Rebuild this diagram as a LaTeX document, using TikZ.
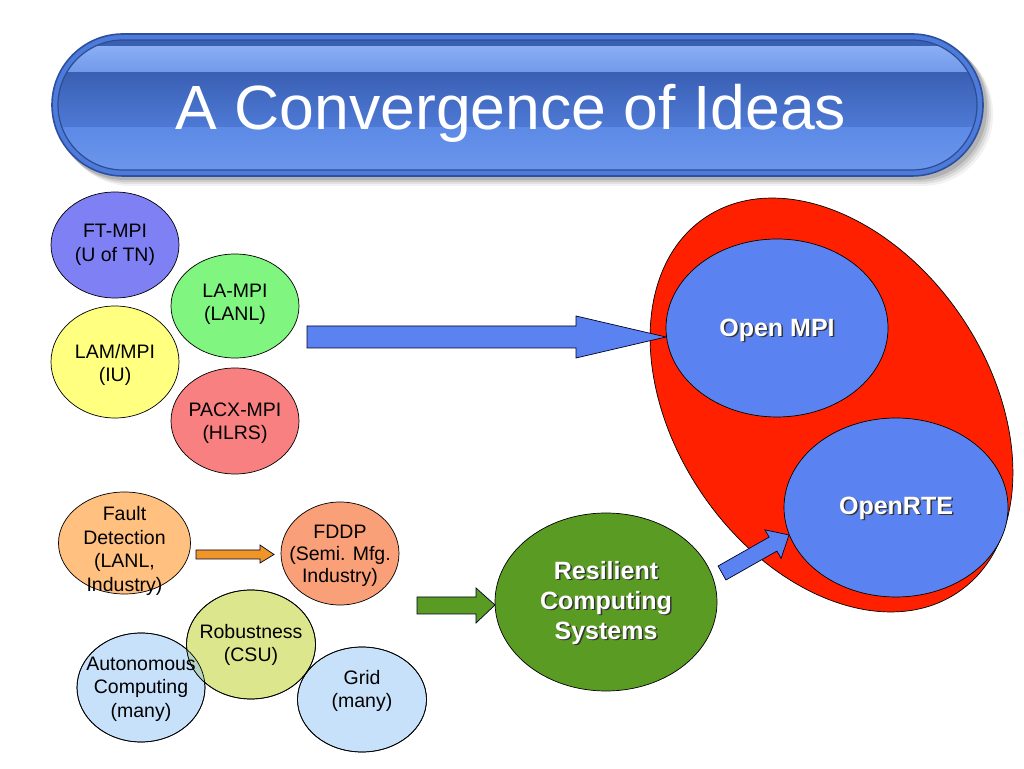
\documentclass[tikz,border=0pt]{standalone}
\usepackage{fontspec}
\setmainfont{Liberation Sans}
\usetikzlibrary{shapes.geometric}
\definecolor{ftc}{RGB}{128,128,245}
\definecolor{lac}{RGB}{128,245,128}
\definecolor{lamc}{RGB}{255,255,128}
\definecolor{pacc}{RGB}{248,128,128}
\definecolor{fdc}{RGB}{255,192,128}
\definecolor{fddpc}{RGB}{250,160,120}
\definecolor{orc}{RGB}{240,150,40}
\definecolor{robc}{RGB}{220,230,140}
\definecolor{autc}{RGB}{200,225,250}
\definecolor{mixc}{RGB}{182,212,190}
\definecolor{grnc}{RGB}{90,156,35}
\definecolor{redc}{RGB}{255,32,0}
\definecolor{bluc}{RGB}{90,130,240}
\definecolor{bnOuter}{RGB}{76,123,220}
\definecolor{bnBorder}{RGB}{45,79,158}
\definecolor{bnHi}{RGB}{138,174,244}
\definecolor{bnHi2}{RGB}{112,152,234}
\definecolor{bnDark}{RGB}{58,96,180}
\definecolor{bnMid}{RGB}{78,122,214}
\definecolor{bnLow}{RGB}{92,138,230}
\definecolor{bnLow2}{RGB}{108,150,236}
\tikzset{
  ell/.style={ellipse, draw=black, line width=0.7pt, inner sep=0pt, outer sep=0pt},
  lbl/.style={align=center, inner sep=0pt, text=black, font=\fontsize{19.5}{23.5}\selectfont},
  wlbl/.style={align=center, inner sep=0pt, text=white, font=\bfseries\fontsize{25}{30}\selectfont},
  slbl/.style={align=center, inner sep=0pt, text=black!80, font=\bfseries\fontsize{25}{30}\selectfont},
  blk/.style={draw=black!85!blue, line width=0.7pt, line join=miter},
}
\begin{document}
\begin{tikzpicture}[x=1pt,y=1pt]
\useasboundingbox (0,0) rectangle (1024,768);
\fill[white] (0,0) rectangle (1024,768);

% ---------- title banner ----------
\foreach \o/\op in {9/0.05,7/0.07,5/0.09,3/0.12}{
  \fill[black, opacity=\op, rounded corners=71pt] (52+\o-1,592-\o-1) rectangle (983+\o+1,734-\o+1);
}
\draw[fill=bnOuter, draw=bnBorder, line width=1.6pt, rounded corners=71pt] (52,592) rectangle (983,734);
\begin{scope}
  \clip[rounded corners=65pt] (58,598) rectangle (977,728);
  \fill[bnDark] (58,718) rectangle (977,728);
  \fill[top color=bnHi, bottom color=bnHi2] (58,695) rectangle (977,721);
  \fill[top color=bnDark, bottom color=bnMid] (58,640) rectangle (977,695);
  \fill[top color=bnLow, bottom color=bnLow2] (58,598) rectangle (977,640);
\end{scope}
\draw[bnDark!80!black, line width=1.2pt, rounded corners=65pt] (58,598) rectangle (977,728);
\node[anchor=base, inner sep=0pt, text=white, font=\fontsize{62.5}{70}\selectfont] (title) at (511,638) {A Convergence of Ideas};

% ---------- MPI implementations ----------
\node[ell, fill=ftc, minimum width=128pt, minimum height=106pt] (ft) at (115,523) {};
\node[ell, fill=lac, minimum width=128pt, minimum height=104pt] (la) at (235,462) {};
\node[ell, fill=lamc, minimum width=128pt, minimum height=112pt] (lam) at (115,406) {};
\node[ell, fill=pacc, minimum width=128pt, minimum height=106pt] (pacx) at (235,347) {};
\node[lbl] (ftT) at (115,523) {FT-MPI\\(U of TN)};
\node[lbl] (laT) at (235,463.5) {LA-MPI\\(LANL)};
\node[lbl] (lamT) at (115,403) {LAM/MPI\\(IU)};
\node[lbl] (pacxT) at (235,345) {PACX-MPI\\(HLRS)};

% ---------- fault tolerance ideas ----------
\node[ell, fill=fdc, minimum width=132pt, minimum height=102pt] (fd) at (124.5,225) {};
\node[ell, fill=fddpc, minimum width=118pt, minimum height=103pt] (fddp) at (340,214.5) {};
\node[ell, fill=autc, minimum width=128pt, minimum height=109pt] (aut) at (141,80.5) {};
\node[ell, fill=autc, minimum width=129pt, minimum height=105pt] (grid) at (362,68.5) {};
\node[ell, fill=robc, minimum width=129pt, minimum height=109pt] (rob) at (251,123.5) {};
\begin{scope}
  \clip (251,123.5) ellipse [x radius=64.5pt, y radius=54.5pt];
  \fill[mixc] (141,80.5) ellipse [x radius=64pt, y radius=54.5pt];
  \fill[mixc] (362,68.5) ellipse [x radius=64.5pt, y radius=52.5pt];
\end{scope}
\draw[black, line width=0.7pt] (141,80.5) ellipse [x radius=64pt, y radius=54.5pt];
\draw[black, line width=0.7pt] (362,68.5) ellipse [x radius=64.5pt, y radius=52.5pt];
\draw[black, line width=0.7pt] (251,123.5) ellipse [x radius=64.5pt, y radius=54.5pt];
\node[lbl] (fdT) at (124.5,217) {Fault\\Detection\\(LANL,\\Industry)};
\node[lbl, font=\fontsize{19.5}{22}\selectfont] (fddpT) at (340,212) {FDDP\\(Semi. Mfg.\\Industry)};
\node[lbl] (robT) at (251,123) {Robustness\\(CSU)};
\node[lbl] (autT) at (141,79) {Autonomous\\Computing\\(many)};
\node[lbl] (gridT) at (362,77) {Grid\\(many)};

% orange arrow Fault Detection -> FDDP
\draw[blk, fill=orc] (196,209) -- (196,218) -- (260,218) -- (260,223) -- (274,213.5) -- (260,205) -- (260,209) -- cycle;

% ---------- resilient computing ----------
\node[ell, fill=grnc, minimum width=222pt, minimum height=178pt] (res) at (606,166) {};
\draw[blk, fill=grnc] (417,154) -- (417,171) -- (476,171) -- (476,180) -- (495,163) -- (476,145) -- (476,154) -- cycle;
\node[slbl] (resS) at (607.5,163.5) {Resilient\\Computing\\Systems};
\node[wlbl] (resT) at (606,165) {Resilient\\Computing\\Systems};

% ---------- Open MPI project ----------
\node[ellipse, draw=black, line width=0.7pt, fill=redc, inner sep=0pt, minimum width=452pt, minimum height=314pt, rotate=-56] (proj) at (831.5,363) {};
\draw[blk, fill=bluc] (307,420) -- (307,442) -- (576,442) -- (576,452) -- (666,431) -- (576,410) -- (576,420) -- cycle;
\draw[blk, fill=bluc] (718.1,202.0) -- (769.1,230.9) -- (764.9,238.2) -- (789,233) -- (781.1,209.6) -- (776.9,216.9) -- (725.9,188) -- cycle;
\node[ell, fill=bluc, minimum width=222pt, minimum height=178pt] (ompi) at (777,440) {};
\node[ell, fill=bluc, minimum width=224pt, minimum height=179pt] (orte) at (896,260.5) {};
\node[slbl] (ompiS) at (778.5,436.5) {Open MPI};
\node[wlbl] (ompiT) at (777,438) {Open MPI};
\node[slbl] (orteS) at (897.5,258.5) {OpenRTE};
\node[wlbl] (orteT) at (896,260) {OpenRTE};
\end{tikzpicture}
\end{document}
